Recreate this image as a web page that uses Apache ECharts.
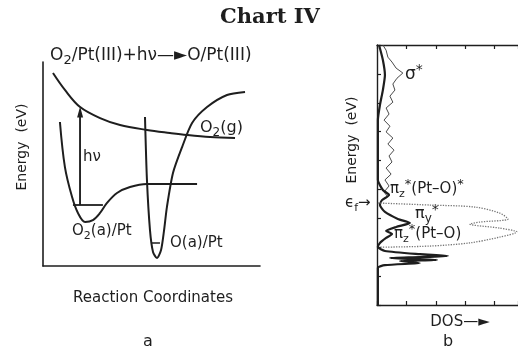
<!DOCTYPE html>
<html>
<head>
<meta charset="utf-8">
<script src="https://cdn.jsdelivr.net/npm/echarts@6/dist/echarts.min.js"></script>
<style>
  html, body { margin: 0; padding: 0; background: #fff; }
  #main { width: 518px; height: 352px; }
</style>
</head>
<body>
<div id="main"></div>
<script>
// panel a: potential energy curves (reaction coordinate, energy), arbitrary units
var curveO2g = [[0.46, 9.46], [1.01, 8.63], [1.71, 7.79], [2.63, 7.25], [3.55, 6.91], [4.79, 6.67],
    [5.85, 6.52], [6.64, 6.42], [7.70, 6.32], [8.85, 6.27]];
var curveO2a = [[0.78, 7.06], [1.01, 4.85], [1.34, 3.38], [1.61, 2.60], [1.94, 2.16], [2.30, 2.25],
    [2.63, 2.60], [2.95, 3.09], [3.41, 3.58], [4.01, 3.87], [4.79, 4.02], [7.10, 4.02]];
var curveOa = [[4.70, 7.30], [4.79, 4.22], [4.93, 1.76], [5.07, 0.69], [5.25, 0.39], [5.44, 0.78],
    [5.58, 1.76], [5.71, 2.89], [5.99, 4.56], [6.41, 5.83], [6.87, 7.01], [7.56, 7.79], [8.48, 8.38], [9.31, 8.53]];
var levelO2a = [[1.38, 2.99], [2.76, 2.99]];
var levelOa = [[5.02, 1.13], [5.39, 1.13]];
var hvArrow = [[1.71, 2.99], [1.71, 7.55]];

// panel b: density of states (DOS, energy)
var dosPtO = [[0.07, 9.0], [0.2, 8.48], [0.27, 7.96], [0.2, 7.44], [0.1, 6.92], [0.03, 6.4], [0.03, 5.36],
    [0.03, 4.33], [0.2, 3.98], [0.41, 3.81], [0.17, 3.63], [0.1, 3.46], [0.27, 3.22], [0.71, 2.98],
    [1.12, 2.84], [0.65, 2.70], [0.31, 2.56], [0.51, 2.46], [0.31, 2.32], [0.1, 2.15], [0.03, 2.01],
    [0.27, 1.87], [1.46, 1.76], [2.41, 1.70], [1.46, 1.66], [0.44, 1.63], [2.04, 1.56], [0.78, 1.52],
    [1.46, 1.45], [0.27, 1.38], [0.03, 1.28], [0.03, 0]];
var dosPt = [[0.2, 9.0], [0.31, 8.82], [0.37, 8.58], [0.51, 8.41], [0.65, 8.2], [0.88, 8.03], [0.68, 7.85],
    [0.54, 7.65], [0.61, 7.44], [0.44, 7.23], [0.54, 7.02], [0.31, 6.82], [0.41, 6.61], [0.24, 6.4],
    [0.44, 6.19], [0.31, 5.99], [0.54, 5.78], [0.37, 5.57], [0.58, 5.36], [0.41, 5.16], [0.51, 4.95],
    [0.31, 4.74], [0.48, 4.53], [0.27, 4.33], [0.41, 4.12], [0.24, 3.91], [0.37, 3.74]];
var dosO2 = [[0.03, 3.53], [1.8, 3.46], [3.33, 3.39], [4.18, 3.18], [4.46, 2.98], [3.5, 2.87], [3.16, 2.80],
    [4.18, 2.66], [4.76, 2.53], [4.18, 2.35], [3.16, 2.15], [1.8, 2.04], [0.1, 2.0]];

var ink = '#1e1e1e';
var sans = '"DejaVu Sans", "Liberation Sans", sans-serif';
var chart = echarts.init(document.getElementById('main'));

function curve(data, xi, w, extra) {
    return Object.assign({
        type: 'line', xAxisIndex: xi, yAxisIndex: xi, data: data, symbol: 'none',
        smooth: 0.35, silent: true, lineStyle: { color: ink, width: w }
    }, extra || {});
}

// annotation text, optional align / rotation
function txt(x, y, text, size, align, rot) {
    return {
        type: 'text', x: x, y: y, rotation: rot || 0, silent: true,
        style: {
            text: text, fontSize: size, fontFamily: sans, fill: ink,
            align: align || 'left', verticalAlign: 'middle',
            rich: {
                sub: { fontSize: Math.round(size * 0.75), fontFamily: sans, fill: ink, verticalAlign: 'bottom', padding: [0, 0, -3, 0] },
                sup: { fontSize: Math.round(size * 0.85), fontFamily: sans, fill: ink, verticalAlign: 'top', padding: [-3, 0, 0, 0] }
            }
        }
    };
}

var plainAxis = { show: true, lineStyle: { color: ink, width: 1.6 } };
var dosAxis = { show: true, lineStyle: { color: ink, width: 1.4 } };
var dosTick = { inside: true, length: 4, lineStyle: { color: ink, width: 1.2 } };

chart.setOption({
    backgroundColor: '#fff',
    animation: false,
    grid: [
        { left: 43, top: 62, right: 258, bottom: 86 },
        { left: 377, top: 45, right: 0, bottom: 47 }
    ],
    xAxis: [
        { gridIndex: 0, type: 'value', min: 0, max: 10, axisLine: plainAxis, axisTick: { show: false },
          axisLabel: { show: false }, splitLine: { show: false } },
        { gridIndex: 1, type: 'value', min: 0, max: 4.8, interval: 1, position: 'bottom',
          axisLine: dosAxis, axisTick: dosTick, axisLabel: { show: false }, splitLine: { show: false } },
        { gridIndex: 1, type: 'value', min: 0, max: 4.8, interval: 1, position: 'top',
          axisLine: dosAxis, axisTick: dosTick, axisLabel: { show: false }, splitLine: { show: false } }
    ],
    yAxis: [
        { gridIndex: 0, type: 'value', min: 0, max: 10, axisLine: plainAxis, axisTick: { show: false },
          axisLabel: { show: false }, splitLine: { show: false } },
        { gridIndex: 1, type: 'value', min: 0, max: 9, interval: 1,
          axisLine: dosAxis, axisTick: dosTick, axisLabel: { show: false }, splitLine: { show: false } }
    ],
    series: [
        curve(curveO2g, 0, 2),
        curve(curveO2a, 0, 2),
        curve(curveOa, 0, 2, { smooth: 0.25 }),
        curve(levelO2a, 0, 1.8, { smooth: false }),
        curve(levelOa, 0, 1.6, { smooth: false }),
        curve(hvArrow, 0, 1.5, {
            smooth: false,
            markLine: {
                silent: true, symbol: ['none', 'triangle'], symbolSize: [6, 11], label: { show: false },
                lineStyle: { color: ink, width: 1.5, type: 'solid' },
                data: [[{ coord: hvArrow[0] }, { coord: hvArrow[1] }]]
            }
        }),
        curve(dosPt, 1, 1, { smooth: false, lineStyle: { color: '#4a4a4a', width: 1 } }),
        curve(dosPtO, 1, 2.2, { smooth: 0.2 }),
        curve(dosO2, 1, 1.3, { smooth: 0.3, lineStyle: { color: '#777', width: 1.3, type: 'dotted' } })
    ],
    graphic: [
        { type: 'text', x: 270, y: 18, silent: true,
          style: { text: 'Chart IV', fontSize: 21, fontWeight: 'bold', fontFamily: '"DejaVu Serif", serif',
                   fill: ink, align: 'center', verticalAlign: 'middle' } },
        txt(50, 56, 'O{sub|2}/Pt(III)+hν—►O/Pt(III)', 17),
        txt(83, 157, 'hν', 15),
        txt(200, 128, 'O{sub|2}(g)', 16),
        txt(72, 231, 'O{sub|2}(a)/Pt', 15),
        txt(170, 243, 'O(a)/Pt', 15),
        txt(22, 147, 'Energy  (eV)', 14, 'center', Math.PI / 2),
        txt(153, 298, 'Reaction Coordinates', 15, 'center'),
        txt(148, 342, 'a', 16, 'center'),
        txt(352, 140, 'Energy  (eV)', 14, 'center', Math.PI / 2),
        txt(405, 75, 'σ{sup|*}', 17),
        txt(390, 189, 'π{sub|z}{sup|*}(Pt–O){sup|*}', 15),
        txt(345, 203, 'ϵ{sub|f}→', 15),
        txt(415, 214, 'π{sub|y}{sup|*}', 16),
        txt(394, 234, 'π{sub|z}{sup|*}(Pt–O)', 15),
        txt(460, 322, 'DOS—►', 15, 'center'),
        txt(448, 342, 'b', 16, 'center')
    ]
});
</script>
</body>
</html>
